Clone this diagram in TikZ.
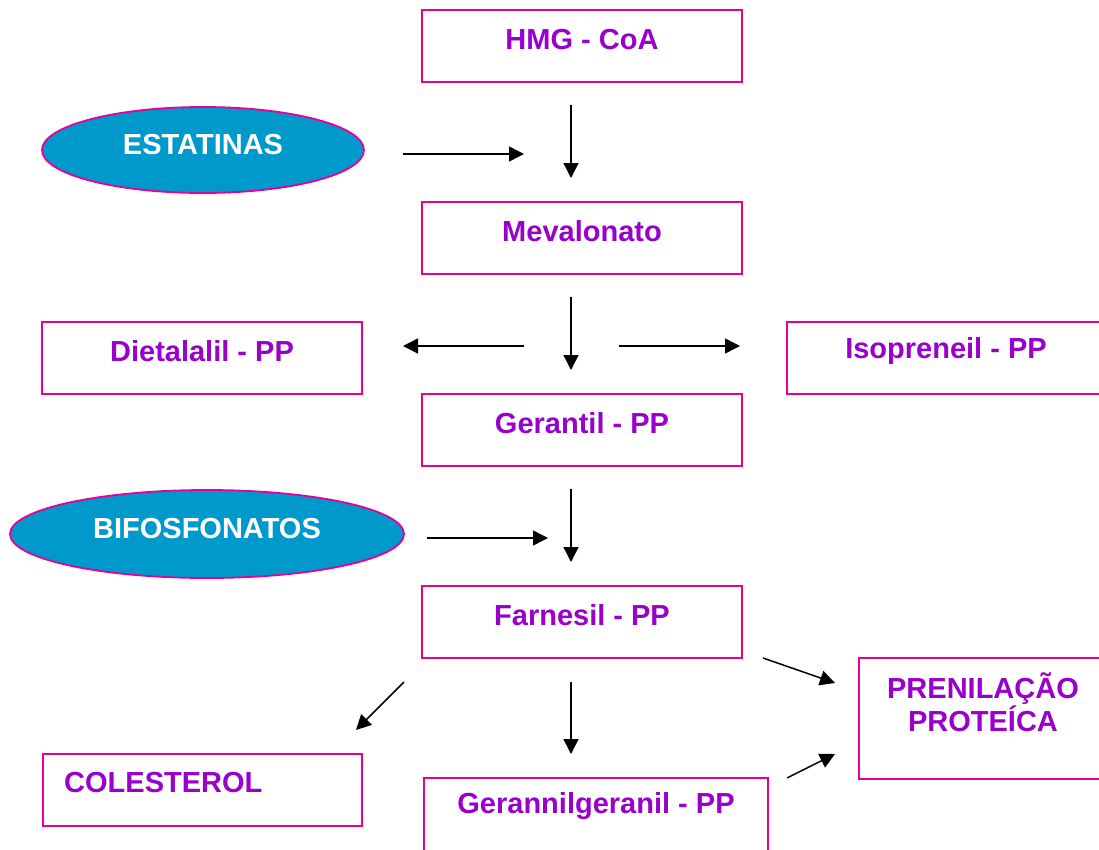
\documentclass[tikz,border=0pt]{standalone}
\usepackage{fontspec}
\setmainfont{Liberation Sans}
\usetikzlibrary{arrows.meta,shapes.geometric}
\definecolor{bordermag}{RGB}{230,0,150}
\definecolor{txtpurple}{RGB}{153,0,204}
\definecolor{ellfill}{RGB}{0,153,204}
\tikzset{
  box/.style={draw=bordermag, line width=1.9pt, fill=white},
  lbl/.style={text=txtpurple, font=\fontsize{29}{33}\selectfont\bfseries, inner sep=0pt, anchor=center},
  pill/.style={ellipse, draw=bordermag, line width=1.8pt, fill=ellfill, inner sep=0pt},
  pilltxt/.style={text=white, font=\fontsize{29}{33}\selectfont\bfseries, inner sep=0pt},
  arr/.style={-{Triangle[length=15pt,width=15pt]}, line width=1.5pt, black}
}
\begin{document}
\begin{tikzpicture}[x=1pt,y=-1pt]
\useasboundingbox (0,0) rectangle (1099,849);
% boxes
\draw[box] (422,10) rectangle (742,82);
\node[lbl] (hmg) at (582,40) {HMG - CoA};
\draw[box] (422,202) rectangle (742,274);
\node[lbl] (mev) at (582,231) {Mevalonato};
\draw[box] (42,322) rectangle (362,394);
\node[lbl] (die) at (202,351) {Dietalalil - PP};
\draw[box] (787,322) rectangle (1110,394);
\node[lbl] (iso) at (946,351) {Isopreneil - PP};
\draw[box] (422,394) rectangle (742,466);
\node[lbl] (ger) at (582,423) {Gerantil - PP};
\draw[box] (422,586) rectangle (742,658);
\node[lbl] (far) at (582,615) {Farnesil - PP};
\draw[box] (43,754) rectangle (362,826);
\node[lbl, anchor=west] (col) at (64,783) {COLESTEROL};
\draw[box] (424,778) rectangle (768,860);
\node[lbl] (ggp) at (596,806) {Gerannilgeranil - PP};
\draw[box] (859,658) rectangle (1110,779);
\node[lbl, align=center, font=\fontsize{29}{33}\selectfont\bfseries] (pre) at (983,702) {PRENILAÇÃO\\PROTEÍCA};
% ellipses
\node[pill, minimum width=322pt, minimum height=86pt] (est) at (203,150) {};
\node[pilltxt] (estt) at (203,145) {ESTATINAS};
\node[pill, minimum width=394pt, minimum height=88pt] (bif) at (207,534) {};
\node[pilltxt] (bift) at (207,529) {BIFOSFONATOS};
% arrow coordinates
\coordinate (a1s) at (571,105); \coordinate (a1e) at (571,178);
\coordinate (a2s) at (403,154); \coordinate (a2e) at (524,154);
\coordinate (a3s) at (571,297); \coordinate (a3e) at (571,370);
\coordinate (a4s) at (524,346); \coordinate (a4e) at (403,346);
\coordinate (a5s) at (619,346); \coordinate (a5e) at (740,346);
\coordinate (a6s) at (571,489); \coordinate (a6e) at (571,562);
\coordinate (a7s) at (427,538); \coordinate (a7e) at (548,538);
\coordinate (a8s) at (571,682); \coordinate (a8e) at (571,754);
\coordinate (a9s) at (404,682); \coordinate (a9e) at (356,730);
\coordinate (a10s) at (763,658); \coordinate (a10e) at (835,683);
\coordinate (a11s) at (787,778); \coordinate (a11e) at (835,754);
\foreach \i in {1,...,11} { \draw[arr] (a\i s) -- (a\i e); }
\end{tikzpicture}
\end{document}
